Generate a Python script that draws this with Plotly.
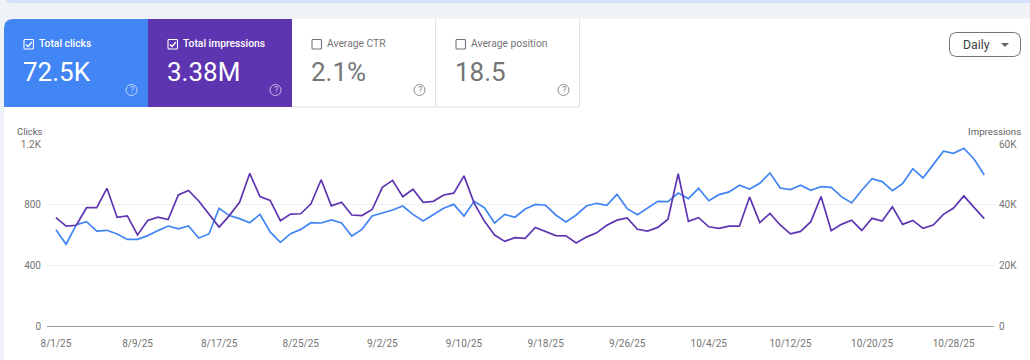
import pandas as pd
import plotly.graph_objects as go

START_DATE = "2025-08-01"
END_DATE = "2025-10-31"
clicks = [635,539,668,688,626,631,607,571,571,596,629,659,640,659,580,607,776,728,708,681,736,620,552,609,637,681,679,699,679,593,
          637,725,745,765,791,736,692,732,776,802,725,822,780,679,736,717,771,802,796,732,686,732,791,809,796,868,774,734,778,822,
          820,877,840,908,826,866,884,928,903,941,1009,910,899,928,895,919,914,853,811,895,971,952,892,939,1037,976,1064,1152,1139,1172,1101,996]
impressions = [35700,32900,33200,39000,39000,45400,35800,36300,30000,34800,35900,35100,43200,44700,41200,36900,32600,36400,40800,50300,42700,41400,34700,36900,37000,40300,48200,39600,40800,36600,
               36400,38400,45700,48000,42600,45100,40800,41100,43200,43800,49500,40500,34600,30000,27900,29100,28900,32500,31200,29800,29700,27400,29300,30700,33200,34900,35600,31900,31300,32500,
               35200,50200,34500,35700,32700,32200,32900,32900,42500,34100,37100,33300,30400,31200,34400,42700,31400,33500,34900,31500,35500,34600,39300,33500,34800,32200,33300,36800,38900,42900,39100,35400]
click_ticks = [0, 400, 800, 1200]
click_labels = ["0", "400", "800", "1.2K"]
impr_ticks = [0, 20000, 40000, 60000]
impr_labels = ["0", "20K", "40K", "60K"]
tile_titles = ["Total clicks", "Total impressions", "Average CTR", "Average position"]
tile_values = ["72.5K", "3.38M", "2.1%", "18.5"]

W, H = 1030, 360
L, R, T, B = 47, 36, 144, 34
PW, PH = W - L - R, H - T - B
BLUE, PURPLE = "#4285f4", "#5e35b1"
GREY = "#757575"
FONT = "Roboto"


def fx(p):
    return (p - L) / PW


def fy(p):
    return (T + PH - p) / PH


dates = pd.date_range(START_DATE, END_DATE, freq="D")
fig = go.Figure()
fig.add_trace(go.Scatter(x=dates, y=clicks, mode="lines", line=dict(color=BLUE, width=1.7), yaxis="y", hoverinfo="skip"))
fig.add_trace(go.Scatter(x=dates, y=impressions, mode="lines", line=dict(color=PURPLE, width=1.7), yaxis="y2", hoverinfo="skip"))

shapes = []


def rect(x0, y0, x1, y1, fill, line=None):
    shapes.append(dict(type="rect", xref="paper", yref="paper", x0=fx(x0), x1=fx(x1), y0=fy(y1), y1=fy(y0),
                       fillcolor=fill, line=dict(width=0 if line is None else 1, color=line or fill), layer="below"))


def path(points, fill=None, line=None, width=1, close=False, layer="below"):
    d = " ".join(f"{c} {fx(a):.5f} {fy(b):.5f}" for c, a, b in points) + (" Z" if close else "")
    shapes.append(dict(type="path", xref="paper", yref="paper", path=d, fillcolor=fill or "rgba(0,0,0,0)",
                       line=dict(color=line or "rgba(0,0,0,0)", width=width), layer=layer))


def text(s, x, y, size, color, anchor="left", weight=400):
    fig.add_annotation(text=s, xref="paper", yref="paper", x=fx(x), y=fy(y), showarrow=False, xanchor=anchor,
                       yanchor="middle", font=dict(family=FONT, size=size, color=color, weight=weight), borderpad=0, borderwidth=0)


def rounded(x0, y0, x1, y1, r, **kw):
    k = 0.29 * r
    pts = [("M", x0 + r, y0), ("L", x1 - r, y0), ("L", x1 - k, y0 + k), ("L", x1, y0 + r), ("L", x1, y1 - r),
           ("L", x1 - k, y1 - k), ("L", x1 - r, y1), ("L", x0 + r, y1), ("L", x0 + k, y1 - k), ("L", x0, y1 - r),
           ("L", x0, y0 + r), ("L", x0 + k, y0 + k)]
    path(pts, close=True, **kw)


# page chrome
path([("M", 6, 0), ("L", W, 0), ("L", W, 3), ("L", 9, 3), ("L", 6, 1)], fill="#d3e3fd", close=True)
path([("M", 4, 28), ("L", 5, 23), ("L", 8, 20), ("L", 13, 19), ("L", W, 19), ("L", W, H), ("L", 4, H)], fill="#ffffff", close=True)

# tiles
tile_x = [4, 148, 292, 436]
tile_fill = [BLUE, PURPLE, None, None]
for i, x0 in enumerate(tile_x):
    x1 = x0 + 144
    on = tile_fill[i] is not None
    if i == 0:
        path([("M", 4, 107), ("L", 4, 28), ("L", 5, 23), ("L", 8, 20), ("L", 13, 19), ("L", x1, 19), ("L", x1, 107)],
             fill=BLUE, close=True)
    elif on:
        rect(x0, 19, x1, 107, tile_fill[i])
    else:
        rect(x0, 19, x1 - 0.5, 106.5, "#ffffff")
        path([("M", x1 - 0.5, 19), ("L", x1 - 0.5, 107), ("L", x0, 107)], line="#e0e0e0", width=1)
    c = "#ffffff" if on else GREY
    bx = x0 + 20
    rounded(bx, 39.5, bx + 9.5, 49, 1, line=c, width=1.1)
    if on:
        path([("M", bx + 2, 44.5), ("L", bx + 4, 46.5), ("L", bx + 8, 42)], line=c, width=1.3)
    text(tile_titles[i], x0 + 35, 44, 10.3, c, weight=500 if on else 400)
    text(tile_values[i], x0 + 19, 71.5, 26, "#ffffff" if on else GREY)
    icx, icy = x0 + 127.5, 90
    ic = "rgba(255,255,255,0.65)" if on else "#8a8a8a"
    shapes.append(dict(type="circle", xref="paper", yref="paper", x0=fx(icx - 5.5), x1=fx(icx + 5.5), y0=fy(icy + 5.5),
                       y1=fy(icy - 5.5), line=dict(color=ic, width=1), fillcolor="rgba(0,0,0,0)", layer="below"))
    text("?", icx, 90, 9, ic, "center")

# Daily button
rounded(949.5, 32.5, 1020.5, 56.5, 6, line=GREY, width=1)
text("Daily", 976, 45, 12.3, "#3c4043", "center")
path([("M", 1001, 43), ("L", 1009, 43), ("L", 1005, 47)], fill="#5f6368", close=True)

# axis titles
text("Clicks", 43, 131, 9.5, "#5f6368", "right")
text("Impressions", 1021, 131, 9.7, "#5f6368", "right")

x_start = dates[0] - pd.Timedelta(hours=21)
x_end = dates[-1] + pd.Timedelta(hours=23)
tick_font = dict(family=FONT, size=10, color=GREY)
fig.update_layout(
    width=W, height=H, margin=dict(l=L, r=R, t=T, b=B, pad=0), template=None,
    paper_bgcolor="#eff3f8", plot_bgcolor="rgba(0,0,0,0)", showlegend=False, shapes=shapes,
    xaxis=dict(type="date", range=[x_start, x_end], tick0=START_DATE, dtick=8 * 86400000, tickformat="%-m/%-d/%y",
               showgrid=False, zeroline=False, showline=True, linecolor="#9e9e9e", linewidth=1, ticks="outside",
               ticklen=8, tickcolor="rgba(0,0,0,0)", tickfont=tick_font, automargin=False),
    yaxis=dict(range=[0, 1200], tickvals=click_ticks, ticktext=click_labels, gridcolor="#eeeeee", gridwidth=1,
               zeroline=False, showline=False, ticks="outside", ticklen=3, tickcolor="rgba(0,0,0,0)", tickfont=tick_font,
               automargin=False),
    yaxis2=dict(range=[0, 60000], tickvals=impr_ticks, ticktext=impr_labels, overlaying="y", side="right",
                showgrid=False, zeroline=False, showline=False, ticks="outside", ticklen=2,
                tickcolor="rgba(0,0,0,0)", tickfont=tick_font, automargin=False),
)

fig.write_html("out.html", post_script="document.body.style.margin='0';document.body.style.overflow='hidden';",
               config=dict(displayModeBar=False))
